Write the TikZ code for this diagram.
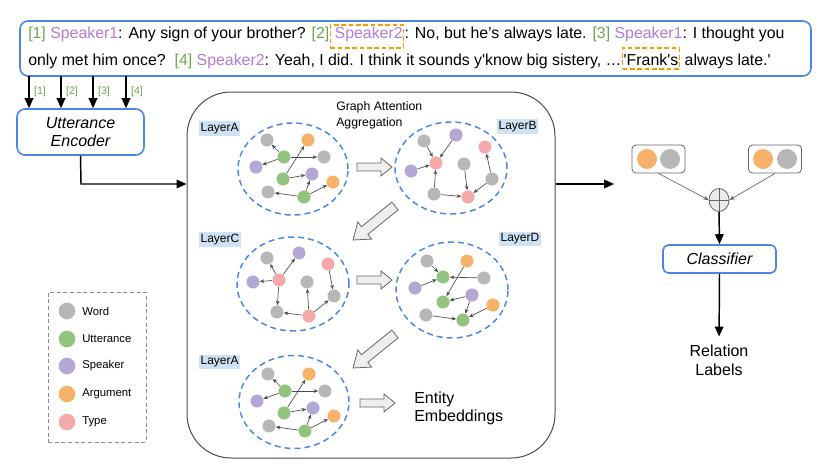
\documentclass[tikz,border=0pt]{standalone}
\usepackage{fontspec}
\setmainfont{Liberation Sans}
\usetikzlibrary{arrows.meta,shapes.geometric,calc}
\definecolor{cblue}{HTML}{4A86E8}
\definecolor{cgray}{HTML}{B7B7B7}
\definecolor{cgreen}{HTML}{93C47D}
\definecolor{cpurple}{HTML}{B4A7D6}
\definecolor{corange}{HTML}{F6B26B}
\definecolor{cpink}{HTML}{F4AAAA}
\definecolor{tgreen}{HTML}{6AA84F}
\definecolor{tpurple}{HTML}{B47BD6}
\definecolor{lbg}{HTML}{CFE2F3}
\definecolor{dorange}{HTML}{FF9900}
\definecolor{afill}{HTML}{EEEEEE}
\newcommand\mygreen[1]{\textcolor{tgreen}{#1}}
\newcommand\myprp[1]{\textcolor{tpurple}{#1}}
\tikzset{
  gn/.style={circle, inner sep=0pt, minimum size=9.8pt, draw=none},
  wd/.style={gn, fill=cgray}, ut/.style={gn, fill=cgreen}, sp/.style={gn, fill=cpurple},
  ar/.style={gn, fill=corange}, ty/.style={gn, fill=cpink},
  ge/.style={-{Stealth[length=3.4pt,width=2.8pt]}, draw=black!70, line width=0.5pt},
  ring/.style={ellipse, draw=cblue, line width=1.1pt, dash pattern=on 4.5pt off 3pt, inner sep=0pt},
  layerlab/.style={fill=lbg, inner xsep=1pt, inner ysep=1.5pt, font=\fontsize{9}{10}\selectfont, anchor=west},
  mainarrow/.style={-{Triangle[length=7.5pt,width=6.5pt]}, line width=1.1pt},
  toptxt/.style={inner sep=0pt, font=\fontsize{11.9}{14}\selectfont, anchor=base west},
  boxd/.style={draw=dorange, dash pattern=on 3.5pt off 2pt, line width=1.1pt, inner xsep=0.8pt, inner ysep=0pt},
  lab/.style={font=\fontsize{8}{9}\selectfont, text=tgreen, inner sep=0pt},
  legdot/.style={circle, inner sep=0pt, minimum size=12.5pt},
  legtxt/.style={font=\fontsize{8.5}{10}\selectfont, anchor=west, inner sep=0pt},
  bigdot/.style={circle, inner sep=0pt, minimum size=15pt},
  pairbox/.style={draw=black!60, line width=0.6pt, rounded corners=3pt, minimum width=53*0.75pt, minimum height=28*0.75pt},
  thinarrow/.style={-{Stealth[length=4pt,width=3.2pt]}, draw=black!60, line width=0.5pt},
  barrow/.pic={\draw[fill=afill, draw=black!60, line width=0.6pt] (0,-4) -- (24,-4) -- (24,-9) -- (35,0) -- (24,9) -- (24,4) -- (0,4) -- cycle;},
  darrow/.pic={\draw[fill=afill, draw=black!60, line width=0.6pt] (0,-5) -- (39,-5) -- (39,-11) -- (54,0) -- (39,11) -- (39,5) -- (0,5) -- cycle;},
}
\newcommand\graphLA[1]{%
  \node[wd] (#1w1) at (267,140) {};
  \node[ar] (#1a1) at (308,140) {};
  \node[ut] (#1u1) at (284,157) {};
  \node[wd] (#1w2) at (324,157) {};
  \node[sp] (#1s1) at (256,167) {};
  \node[ut] (#1u2) at (283,179) {};
  \node[sp] (#1s2) at (312,174) {};
  \node[ar] (#1a2) at (333,182) {};
  \node[wd] (#1w3) at (268,192) {};
  \node[ut] (#1u3) at (304,197) {};
  \draw[ge] (#1u1) -- (#1w1);
  \draw[ge] (#1u1) -- (#1s1);
  \draw[ge] (#1u1) -- (#1w2);
  \draw[ge] (#1u2) -- (#1a1);
  \draw[ge] (#1u2) -- (#1s2);
  \draw[ge] (#1u3) -- (#1s2);
  \draw[ge] (#1u3) -- (#1a2);
  \draw[ge] (#1u3) -- (#1w3);
}
\begin{document}
\begin{tikzpicture}[x=0.75pt,y=-0.75pt]
\useasboundingbox (0,0) rectangle (830,467);

% top dialogue box
\node[draw=cblue, line width=1.2pt, rounded corners=6pt, minimum width=791*0.75pt, minimum height=55*0.75pt, inner sep=0pt] (topbox) at (415.5,48.5) {};
\node[toptxt] (l1a) at (28,39) {\mygreen{[1]} \myprp{Speaker1}: Any sign of your brother? \mygreen{[2]}};
\node[toptxt, boxd, text height=10.5pt, text depth=6.75pt] (l1b) at (l1a.base east) {\hspace{2.5pt}\myprp{Speaker2}};
\node[toptxt] (l1c) at (l1b.base east) {: No, but he’s always late. \mygreen{[3]} \myprp{Speaker1}: I thought you};
\node[toptxt] (l2a) at (28,65) {only met him once?\ \ \mygreen{[4]} \myprp{Speaker2}: Yeah, I did. I think it sounds y\textquotesingle know big sistery, …};
\node[toptxt, boxd, text height=12.75pt, text depth=3pt] (l2b) at (l2a.base east) {\textquotesingle Frank\textquotesingle s};
\node[toptxt] (l2c) at (l2b.base east) {\ always late.\textquotesingle};

% utterance encoder
\node[draw=cblue, line width=1.2pt, rounded corners=6pt, minimum width=127*0.75pt, minimum height=46*0.75pt, align=center, font=\fontsize{12}{14}\selectfont\itshape] (enc) at (80.5,132) {Utterance\\Encoder};
\foreach \i/\x in {1/29,2/61,3/93,4/126}{
  \coordinate (s\i) at (\x,76);
  \draw[mainarrow] (s\i) -- (s\i |- enc.north);
  \node[lab] (k\i) at (\x+11,92) {[\i]};
}

% container
\node[draw=black!70, line width=0.75pt, rounded corners=33pt, minimum width=368*0.75pt, minimum height=366*0.75pt, inner sep=0pt] (cont) at (371,275) {};
\coordinate (j1) at (81,184);
\draw[mainarrow] (enc.south) -- (j1) -- (j1 -| cont.west);
\coordinate (j2) at (614,184);
\draw[mainarrow] (j1 -| cont.east) -- (j2);

\node[anchor=north west, inner sep=0pt, align=left, font=\fontsize{9.2}{12}\selectfont] (gat) at (336,101) {Graph Attention\\Aggregation};

% layer A
\node[layerlab] (labA) at (199,128.5) {LayerA};
\node[ring, minimum width=110*0.75pt, minimum height=92*0.75pt] (ringA) at (293,169) {};
\graphLA{a}

% layer B
\node[layerlab] (labB) at (497,126.5) {LayerB};
\node[ring, minimum width=112*0.75pt, minimum height=92*0.75pt] (ringB) at (451,168) {};
\node[wd] (bw1) at (424,141) {};
\node[sp] (bs1) at (456,135) {};
\node[ty] (bt1) at (485,147) {};
\node[ty] (bt2) at (436,163) {};
\node[wd] (bw2) at (464,164) {};
\node[sp] (bs2) at (411,171) {};
\node[wd] (bw3) at (492,179) {};
\node[wd] (bw4) at (434,194) {};
\node[ty] (bt3) at (468,197) {};
\draw[ge] (bw1) -- (bt2);
\draw[ge] (bs1) -- (bt2);
\draw[ge] (bs2) -- (bt2);
\draw[ge] (bw4) -- (bt2);
\draw[ge] (bw4) -- (bt3);
\draw[ge] (bw2) -- (bt3);
\draw[ge] (bw3) -- (bt3);
\draw[ge] (bw3) -- (bt1);

% layer C
\node[layerlab] (labC) at (199,239.5) {LayerC};
\node[ring, minimum width=112*0.75pt, minimum height=94*0.75pt] (ringC) at (293,284) {};
\node[wd] (cw1) at (267,258) {};
\node[sp] (cs1) at (299,253) {};
\node[ty] (ct1) at (328,264) {};
\node[sp] (cs2) at (253,282) {};
\node[ty] (ct2) at (279,280) {};
\node[wd] (cw2) at (307,282) {};
\node[wd] (cw3) at (334,296) {};
\node[wd] (cw4) at (277,312) {};
\node[ty] (ct3) at (309,316) {};
\draw[ge] (ct2) -- (cw1);
\draw[ge] (ct2) -- (cs1);
\draw[ge] (ct2) -- (cs2);
\draw[ge] (ct2) -- (cw4);
\draw[ge] (ct3) -- (cw4);
\draw[ge] (ct3) -- (cw2);
\draw[ge] (ct3) -- (cw3);
\draw[ge] (ct1) -- (cw3);

% layer D
\node[layerlab] (labD) at (499,239) {LayerD};
\node[ring, minimum width=112*0.75pt, minimum height=96*0.75pt] (ringD) at (452,290) {};
\node[wd] (dw1) at (427,261) {};
\node[ar] (da1) at (467,261) {};
\node[ut] (du1) at (443,277) {};
\node[wd] (dw2) at (484,278) {};
\node[sp] (ds1) at (415,288) {};
\node[sp] (ds2) at (472,295) {};
\node[ut] (du2) at (443,302) {};
\node[ar] (da2) at (493,305) {};
\node[wd] (dw3) at (426,315) {};
\node[ut] (du3) at (463,320) {};
\draw[ge] (dw1) -- (du1);
\draw[ge] (ds1) -- (du1);
\draw[ge] (dw2) -- (du1);
\draw[ge] (da1) -- (du2);
\draw[ge] (ds2) -- (du2);
\draw[ge] (ds2) -- (du3);
\draw[ge] (da2) -- (du3);
\draw[ge] (dw3) -- (du3);

% layer A again
\node[layerlab] (labE) at (199,362) {LayerA};
\node[ring, minimum width=110*0.75pt, minimum height=93*0.75pt] (ringE) at (294,402) {};
\begin{scope}[shift={(1,234)}]
\graphLA{e}
\end{scope}

% block arrows
\pic at (357,167) {barrow};
\pic at (357,280) {barrow};
\pic at (360,403) {barrow};
\pic[rotate=219] at (395,206) {darrow};
\pic[rotate=219] at (395,334) {darrow};

\node[anchor=north west, inner sep=0pt, align=left, font=\fontsize{12}{13.5}\selectfont] (ent) at (414,392) {Entity\\Embeddings};

% legend
\node[draw=black!45, line width=0.7pt, dash pattern=on 3pt off 2pt, minimum width=98*0.75pt, minimum height=150*0.75pt, inner sep=0pt] (legend) at (97,367) {};
\foreach \n/\c/\y/\t in {1/cgray/311/Word,2/cgreen/339/Utterance,3/cpurple/366/Speaker,4/corange/394/Argument,5/cpink/422/Type}{
  \node[legdot, fill=\c] (ld\n) at (67,\y) {};
  \node[legtxt] (lt\n) at (82,\y) {\t};
}

% classifier side
\node[pairbox] (lbox) at (658.5,159) {};
\node[bigdot, fill=corange] (lo) at (647,159) {};
\node[bigdot, fill=cgray] (lg) at (670,159) {};
\node[pairbox] (rbox) at (775,159) {};
\node[bigdot, fill=corange] (ro) at (763,159) {};
\node[bigdot, fill=cgray] (rg) at (787,159) {};
\node[ellipse, draw=black!60, fill=black!8, line width=0.6pt, minimum width=20*0.75pt, minimum height=23*0.75pt, inner sep=0pt] (plus) at (719,200) {};
\draw[black!60, line width=0.6pt] (plus.north) -- (plus.south) (plus.west) -- (plus.east);
\draw[thinarrow] (lbox.south) -- (plus.west);
\draw[thinarrow] (rbox.south) -- (plus.east);
\node[draw=cblue, line width=1.2pt, rounded corners=4pt, minimum width=113*0.75pt, minimum height=28*0.75pt, font=\fontsize{12}{14}\selectfont\itshape] (cls) at (719.5,259) {Classifier};
\draw[mainarrow] (plus.south) -- (cls.north);
\node[align=center, inner sep=0pt, font=\fontsize{12}{14}\selectfont] (rel) at (719,360) {Relation\\Labels};
\draw[mainarrow, shorten >=6pt] (cls.south) -- (rel.north);
\end{tikzpicture}
\end{document}
